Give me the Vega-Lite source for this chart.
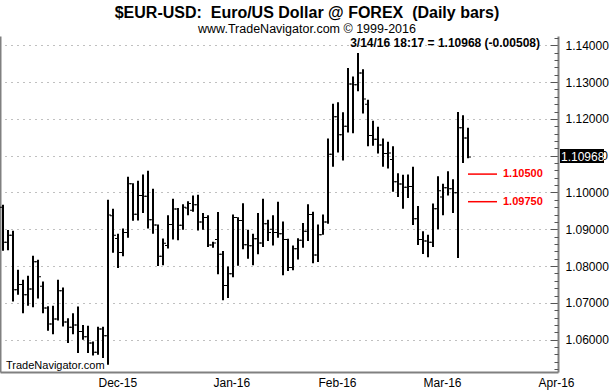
{
"$schema":"https://vega.github.io/schema/vega-lite/v6.json",
"width":558,"height":336,
"autosize":"none",
"padding":{"left":0,"top":36,"right":56,"bottom":20},
"background":"white",
"config":{"view":{"stroke":null},"font":"Liberation Sans","text":{"font":"Liberation Sans"}},
"title":{"text":"$EUR-USD:\u00a0 Euro/US Dollar @ FOREX\u00a0 (Daily bars)","subtitle":"www.TradeNavigator.com © 1999-2016","anchor":"middle","dx":28,"font":"Liberation Sans","fontSize":16,"fontWeight":"bold","color":"black","subtitleFont":"Liberation Sans","subtitleFontSize":12.5,"subtitleColor":"black","offset":1,"subtitlePadding":2},
"datasets":{"bars":[
{"d":"2015-11-04","i":0,"o":1.0960,"h":1.0967,"l":1.0842,"c":1.0865},
{"d":"2015-11-05","i":1,"o":1.0865,"h":1.0898,"l":1.0843,"c":1.0884},
{"d":"2015-11-06","i":2,"o":1.0884,"h":1.0896,"l":1.0704,"c":1.0736},
{"d":"2015-11-09","i":3,"o":1.0736,"h":1.0790,"l":1.0722,"c":1.0750},
{"d":"2015-11-10","i":4,"o":1.0750,"h":1.0763,"l":1.0672,"c":1.0722},
{"d":"2015-11-11","i":5,"o":1.0722,"h":1.0774,"l":1.0692,"c":1.0738},
{"d":"2015-11-12","i":6,"o":1.0738,"h":1.0828,"l":1.0688,"c":1.0812},
{"d":"2015-11-13","i":7,"o":1.0812,"h":1.0817,"l":1.0712,"c":1.0771},
{"d":"2015-11-16","i":8,"o":1.0745,"h":1.0758,"l":1.0672,"c":1.0686},
{"d":"2015-11-17","i":9,"o":1.0686,"h":1.0691,"l":1.0624,"c":1.0643},
{"d":"2015-11-18","i":10,"o":1.0643,"h":1.0692,"l":1.0615,"c":1.0656},
{"d":"2015-11-19","i":11,"o":1.0656,"h":1.0763,"l":1.0652,"c":1.0733},
{"d":"2015-11-20","i":12,"o":1.0733,"h":1.0742,"l":1.0636,"c":1.0648},
{"d":"2015-11-23","i":13,"o":1.0648,"h":1.0658,"l":1.0591,"c":1.0634},
{"d":"2015-11-24","i":14,"o":1.0634,"h":1.0672,"l":1.0615,"c":1.0640},
{"d":"2015-11-25","i":15,"o":1.0640,"h":1.0690,"l":1.0564,"c":1.0622},
{"d":"2015-11-26","i":16,"o":1.0622,"h":1.0640,"l":1.0600,"c":1.0608},
{"d":"2015-11-27","i":17,"o":1.0608,"h":1.0638,"l":1.0564,"c":1.0591},
{"d":"2015-11-30","i":18,"o":1.0591,"h":1.0595,"l":1.0557,"c":1.0566},
{"d":"2015-12-01","i":19,"o":1.0566,"h":1.0635,"l":1.0559,"c":1.0629},
{"d":"2015-12-02","i":20,"o":1.0629,"h":1.0635,"l":1.0550,"c":1.0611},
{"d":"2015-12-03","i":21,"o":1.0611,"h":1.0980,"l":1.0532,"c":1.0939},
{"d":"2015-12-04","i":22,"o":1.0937,"h":1.0956,"l":1.0836,"c":1.0884},
{"d":"2015-12-07","i":23,"o":1.0875,"h":1.0888,"l":1.0795,"c":1.0837},
{"d":"2015-12-08","i":24,"o":1.0837,"h":1.0902,"l":1.0827,"c":1.0891},
{"d":"2015-12-09","i":25,"o":1.0891,"h":1.1043,"l":1.0877,"c":1.1024},
{"d":"2015-12-10","i":26,"o":1.1024,"h":1.1025,"l":1.0923,"c":1.0941},
{"d":"2015-12-11","i":27,"o":1.0941,"h":1.1032,"l":1.0924,"c":1.0992},
{"d":"2015-12-14","i":28,"o":1.0992,"h":1.1049,"l":1.0944,"c":1.0990},
{"d":"2015-12-15","i":29,"o":1.0990,"h":1.1059,"l":1.0902,"c":1.0926},
{"d":"2015-12-16","i":30,"o":1.0926,"h":1.1010,"l":1.0888,"c":1.0912},
{"d":"2015-12-17","i":31,"o":1.0912,"h":1.0913,"l":1.0800,"c":1.0827},
{"d":"2015-12-18","i":32,"o":1.0827,"h":1.0875,"l":1.0802,"c":1.0862},
{"d":"2015-12-21","i":33,"o":1.0856,"h":1.0938,"l":1.0848,"c":1.0913},
{"d":"2015-12-22","i":34,"o":1.0913,"h":1.0983,"l":1.0872,"c":1.0955},
{"d":"2015-12-23","i":35,"o":1.0955,"h":1.0958,"l":1.0870,"c":1.0911},
{"d":"2015-12-24","i":36,"o":1.0911,"h":1.0968,"l":1.0899,"c":1.0960},
{"d":"2015-12-25","i":37,"o":1.0958,"h":1.0976,"l":1.0938,"c":1.0970},
{"d":"2015-12-28","i":38,"o":1.0952,"h":1.0992,"l":1.0948,"c":1.0967},
{"d":"2015-12-29","i":39,"o":1.0967,"h":1.0994,"l":1.0897,"c":1.0920},
{"d":"2015-12-30","i":40,"o":1.0920,"h":1.0944,"l":1.0899,"c":1.0932},
{"d":"2015-12-31","i":41,"o":1.0932,"h":1.0938,"l":1.0852,"c":1.0857},
{"d":"2016-01-01","i":42,"o":1.0857,"h":1.0866,"l":1.0850,"c":1.0863},
{"d":"2016-01-04","i":43,"o":1.0872,"h":1.0947,"l":1.0778,"c":1.0832},
{"d":"2016-01-05","i":44,"o":1.0832,"h":1.0841,"l":1.0707,"c":1.0747},
{"d":"2016-01-06","i":45,"o":1.0747,"h":1.0799,"l":1.0713,"c":1.0779},
{"d":"2016-01-07","i":46,"o":1.0779,"h":1.0940,"l":1.0770,"c":1.0932},
{"d":"2016-01-08","i":47,"o":1.0932,"h":1.0933,"l":1.0801,"c":1.0924},
{"d":"2016-01-11","i":48,"o":1.0924,"h":1.0971,"l":1.0846,"c":1.0858},
{"d":"2016-01-12","i":49,"o":1.0858,"h":1.0899,"l":1.0820,"c":1.0855},
{"d":"2016-01-13","i":50,"o":1.0855,"h":1.0888,"l":1.0802,"c":1.0874},
{"d":"2016-01-14","i":51,"o":1.0874,"h":1.0944,"l":1.0832,"c":1.0863},
{"d":"2016-01-15","i":52,"o":1.0863,"h":1.0983,"l":1.0852,"c":1.0915},
{"d":"2016-01-18","i":53,"o":1.0915,"h":1.0926,"l":1.0868,"c":1.0891},
{"d":"2016-01-19","i":54,"o":1.0900,"h":1.0938,"l":1.0856,"c":1.0891},
{"d":"2016-01-20","i":55,"o":1.0891,"h":1.0975,"l":1.0877,"c":1.0888},
{"d":"2016-01-21","i":56,"o":1.0888,"h":1.0921,"l":1.0775,"c":1.0872},
{"d":"2016-01-22","i":57,"o":1.0872,"h":1.0874,"l":1.0787,"c":1.0796},
{"d":"2016-01-25","i":58,"o":1.0796,"h":1.0856,"l":1.0789,"c":1.0847},
{"d":"2016-01-26","i":59,"o":1.0847,"h":1.0876,"l":1.0818,"c":1.0870},
{"d":"2016-01-27","i":60,"o":1.0870,"h":1.0917,"l":1.0850,"c":1.0895},
{"d":"2016-01-28","i":61,"o":1.0895,"h":1.0968,"l":1.0868,"c":1.0940},
{"d":"2016-01-29","i":62,"o":1.0940,"h":1.0948,"l":1.0808,"c":1.0830},
{"d":"2016-02-01","i":63,"o":1.0830,"h":1.0913,"l":1.0811,"c":1.0885},
{"d":"2016-02-02","i":64,"o":1.0885,"h":1.0940,"l":1.0885,"c":1.0920},
{"d":"2016-02-03","i":65,"o":1.0920,"h":1.1147,"l":1.0915,"c":1.1104},
{"d":"2016-02-04","i":66,"o":1.1104,"h":1.1241,"l":1.1070,"c":1.1206},
{"d":"2016-02-05","i":67,"o":1.1206,"h":1.1245,"l":1.1109,"c":1.1157},
{"d":"2016-02-08","i":68,"o":1.1157,"h":1.1218,"l":1.1087,"c":1.1180},
{"d":"2016-02-09","i":69,"o":1.1180,"h":1.1338,"l":1.1163,"c":1.1295},
{"d":"2016-02-10","i":70,"o":1.1295,"h":1.1315,"l":1.1161,"c":1.1293},
{"d":"2016-02-11","i":71,"o":1.1293,"h":1.1379,"l":1.1275,"c":1.1325},
{"d":"2016-02-12","i":72,"o":1.1325,"h":1.1335,"l":1.1215,"c":1.1254},
{"d":"2016-02-15","i":73,"o":1.1240,"h":1.1252,"l":1.1126,"c":1.1155},
{"d":"2016-02-16","i":74,"o":1.1155,"h":1.1195,"l":1.1127,"c":1.1145},
{"d":"2016-02-17","i":75,"o":1.1145,"h":1.1179,"l":1.1106,"c":1.1129},
{"d":"2016-02-18","i":76,"o":1.1129,"h":1.1147,"l":1.1070,"c":1.1106},
{"d":"2016-02-19","i":77,"o":1.1106,"h":1.1138,"l":1.1065,"c":1.1107},
{"d":"2016-02-22","i":78,"o":1.1090,"h":1.1126,"l":1.1002,"c":1.1029},
{"d":"2016-02-23","i":79,"o":1.1029,"h":1.1052,"l":1.0988,"c":1.1023},
{"d":"2016-02-24","i":80,"o":1.1023,"h":1.1048,"l":1.0956,"c":1.1014},
{"d":"2016-02-25","i":81,"o":1.1014,"h":1.1049,"l":1.0985,"c":1.1016},
{"d":"2016-02-26","i":82,"o":1.1016,"h":1.1070,"l":1.0912,"c":1.0929},
{"d":"2016-02-29","i":83,"o":1.0929,"h":1.0963,"l":1.0857,"c":1.0872},
{"d":"2016-03-01","i":84,"o":1.0872,"h":1.0895,"l":1.0833,"c":1.0868},
{"d":"2016-03-02","i":85,"o":1.0868,"h":1.0885,"l":1.0824,"c":1.0865},
{"d":"2016-03-03","i":86,"o":1.0865,"h":1.0970,"l":1.0852,"c":1.0956},
{"d":"2016-03-04","i":87,"o":1.0956,"h":1.1044,"l":1.0900,"c":1.1005},
{"d":"2016-03-07","i":88,"o":1.0988,"h":1.1024,"l":1.0938,"c":1.1013},
{"d":"2016-03-08","i":89,"o":1.1013,"h":1.1058,"l":1.0992,"c":1.1010},
{"d":"2016-03-09","i":90,"o":1.1010,"h":1.1036,"l":1.0944,"c":1.0999},
{"d":"2016-03-10","i":91,"o":1.0999,"h":1.1219,"l":1.0822,"c":1.1176},
{"d":"2016-03-11","i":92,"o":1.1176,"h":1.1210,"l":1.1080,"c":1.1148},
{"d":"2016-03-14","i":93,"o":1.1148,"h":1.1176,"l":1.1093,"c":1.10968}
]},
"resolve":{"axis":{"y":"independent"}},
"layer":[
{"data":{"name":"bars"},"mark":{"type":"rule","strokeWidth":2,"color":"black"},
 "encoding":{
  "x":{"field":"i","type":"quantitative","title":null,"scale":{"domain":[-0.6,111],"nice":false,"zero":false},
   "axis":{"orient":"bottom","values":[19,42,63,84,107],"labelExpr":"datum.value < 30 ? 'Dec-15' : datum.value < 50 ? 'Jan-16' : datum.value < 70 ? 'Feb-16' : datum.value < 95 ? 'Mar-16' : 'Apr-16'","labelAlign":"left","labelDx":-3,"labelPadding":5,"labelBaseline":"top","ticks":false,"grid":false,"domainColor":"#808080","domainWidth":2,"labelFont":"Liberation Sans","labelFontSize":12,"labelColor":"black","labelFlush":false,"labelOverlap":false}},
  "y":{"field":"l","type":"quantitative","title":null,"scale":{"domain":[1.051223,1.142527],"nice":false,"zero":false},
   "axis":{"orient":"right","values":[1.06,1.07,1.08,1.09,1.10,1.11,1.12,1.13,1.14],"format":".5f","tickSize":-8,"tickColor":"#555555","tickWidth":1,"labelPadding":15,"labelFont":"Liberation Sans","labelFontSize":12,"labelColor":"black","labelBaseline":"middle","domainColor":"#808080","domainWidth":2,"grid":true,"gridDash":[1,5],"gridColor":"#808080","gridWidth":1,"labelFlush":false,"labelOverlap":false}},
  "y2":{"field":"h"}
 }},
{"data":{"name":"bars"},"mark":{"type":"tick","orient":"horizontal","size":2,"thickness":1,"xOffset":-2,"color":"black","opacity":1},
 "encoding":{
  "x":{"field":"i","type":"quantitative","title":null},
  "y":{"field":"o","type":"quantitative","title":null,
   "axis":{"orient":"right","values":[1.052,1.054,1.056,1.058,1.062,1.064,1.066,1.068,1.072,1.074,1.076,1.078,1.082,1.084,1.086,1.088,1.092,1.094,1.096,1.098,1.102,1.104,1.106,1.108,1.112,1.114,1.116,1.118,1.122,1.124,1.126,1.128,1.132,1.134,1.136,1.138,1.142],"labels":false,"grid":false,"domain":false,"tickSize":-4,"tickColor":"#555555","tickWidth":1}}
 }},
{"data":{"name":"bars"},"mark":{"type":"tick","orient":"horizontal","size":2,"thickness":1,"xOffset":2,"color":"black","opacity":1},
 "encoding":{
  "x":{"field":"i","type":"quantitative","title":null},
  "y":{"field":"c","type":"quantitative","title":null,
   "axis":{"orient":"left","labels":false,"ticks":false,"grid":false,"domainColor":"#808080","domainWidth":2}}
 }},
{"data":{"values":[{"level":"1.10500","p":1.105,"x1":93,"x2":98.8},{"level":"1.09750","p":1.0975,"x1":93,"x2":98.8}]},
 "mark":{"type":"rule","color":"#ff0000","strokeWidth":1.5},
 "encoding":{"x":{"field":"x1","type":"quantitative","title":null},"x2":{"field":"x2"},"y":{"field":"p","type":"quantitative","axis":null}}},
{"data":{"values":[{"level":"1.10500","p":1.105,"tx":100},{"level":"1.09750","p":1.0975,"tx":100}]},
 "mark":{"type":"text","color":"#ff0000","fontWeight":"bold","fontSize":11,"align":"left","baseline":"middle","font":"Liberation Sans"},
 "encoding":{"x":{"field":"tx","type":"quantitative","title":null},"y":{"field":"p","type":"quantitative","axis":null},"text":{"field":"level"}}},
{"data":{"values":[{"x1":111.4,"x2":120.2,"p1":1.11182,"p2":1.10802}]},
 "mark":{"type":"rect","color":"black"},
 "encoding":{"x":{"field":"x1","type":"quantitative","title":null},"x2":{"field":"x2"},"y":{"field":"p1","type":"quantitative","axis":null},"y2":{"field":"p2"}}},
{"data":{"values":[{"last":"1.10968","p":1.10968,"tx":111.6}]},
 "mark":{"type":"text","color":"white","fontSize":12,"align":"left","baseline":"middle","font":"Liberation Sans"},
 "encoding":{"x":{"field":"tx","type":"quantitative","title":null},"y":{"field":"p","type":"quantitative","axis":null},"text":{"field":"last"}}},
{"data":{"values":[{"note":"3/14/16 18:17 = 1.10968 (-0.00508)","p":1.1396,"tx":107.4}]},
 "mark":{"type":"text","color":"black","fontSize":12,"fontWeight":"bold","align":"right","baseline":"alphabetic","font":"Liberation Sans"},
 "encoding":{"x":{"field":"tx","type":"quantitative","title":null},"y":{"field":"p","type":"quantitative","axis":null},"text":{"field":"note"}}},
{"data":{"values":[{"mark":"TradeNavigator.com","p":1.05204,"tx":0.6}]},
 "mark":{"type":"text","color":"black","fontSize":11,"align":"left","baseline":"alphabetic","font":"Liberation Sans"},
 "encoding":{"x":{"field":"tx","type":"quantitative","title":null},"y":{"field":"p","type":"quantitative","axis":null},"text":{"field":"mark"}}}
]
}
